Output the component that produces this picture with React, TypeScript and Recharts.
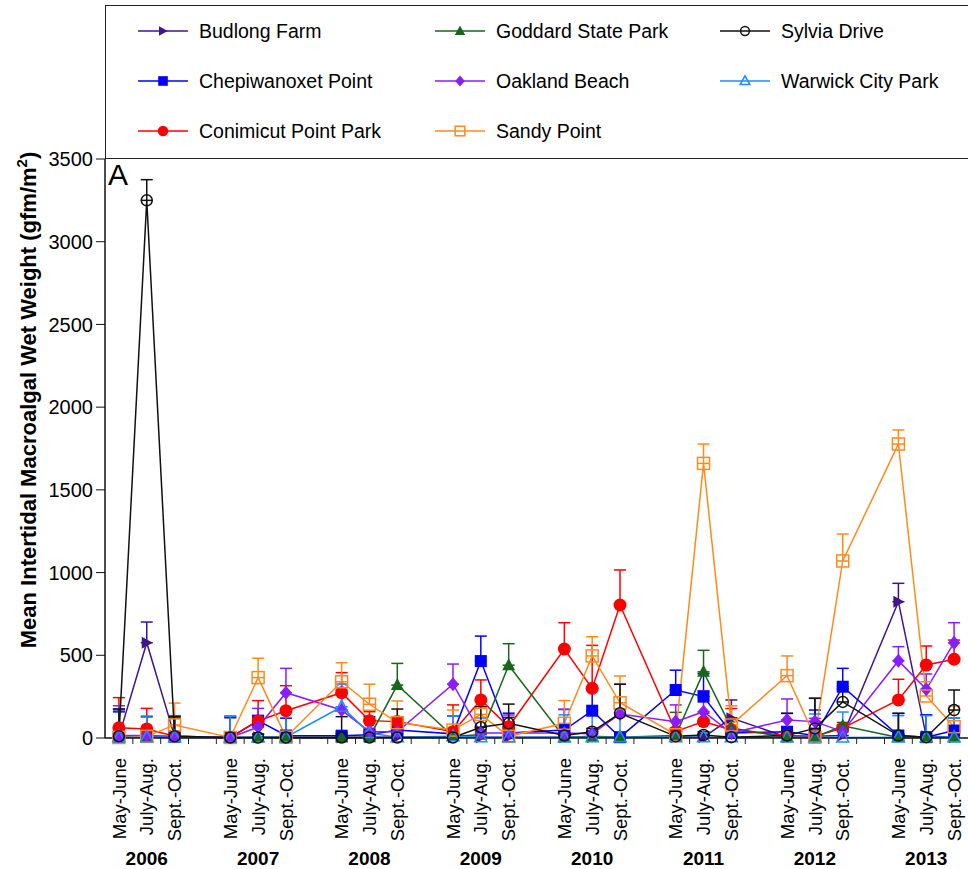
import { ComposedChart, Line, XAxis, YAxis, ErrorBar, Legend, Customized } from "recharts";

const FONT = "'Liberation Sans', Arial, Helvetica, sans-serif";

const seasons = ["May-June", "July-Aug.", "Sept.-Oct."];
const years = ["2006", "2007", "2008", "2009", "2010", "2011", "2012", "2013"];
const yTicks = [0, 500, 1000, 1500, 2000, 2500, 3000, 3500];

// values per sampling period, 2006 May-June ... 2013 Sept.-Oct.
const budlong = [10, 576, 10, 2, 5, 5, 3, 5, 5, 5, 5, 5, 5, 5, 5, 5, 5, 120, 5, 10, 15, 824, 10, 5];
const budlongErr = [160, 125, 110, 120, 20, 20, 20, 30, 20, 20, 20, 120, 20, 20, 20, 20, 20, 110, 20, 230, 30, 111, 129, 20];

const goddard = [5, 5, 5, 3, 3, 3, 3, 5, 320, 10, 20, 440, 3, 10, 5, 15, 400, 60, 3, 5, 74, 3, 3, 3];
const goddardErr = [170, 20, 130, 20, 20, 20, 20, 20, 131, 20, 20, 130, 20, 20, 20, 140, 130, 40, 20, 20, 20, 20, 20, 20];

const sylvia = [10, 3250, 10, 3, 3, 3, 3, 3, 3, 3, 65, 89, 15, 38, 149, 10, 18, 5, 15, 58, 218, 15, 5, 169];
const sylviaErr = [165, 125, 120, 20, 20, 20, 126, 126, 172, 20, 124, 116, 20, 20, 176, 20, 20, 20, 134, 182, 80, 134, 20, 121];

const chepiwanoxet = [8, 8, 8, 3, 105, 15, 14, 20, 48, 25, 465, 30, 48, 165, 5, 290, 250, 30, 38, 15, 310, 15, 5, 45];
const chepiwanoxetErr = [150, 120, 120, 125, 28, 105, 20, 20, 71, 108, 151, 120, 125, 125, 20, 120, 140, 90, 111, 154, 111, 134, 134, 75];

const oakland = [15, 15, 10, 3, 66, 274, 169, 38, 38, 325, 30, 30, 30, 25, 145, 99, 159, 30, 109, 99, 38, 467, 294, 576];
const oaklandErr = [180, 20, 20, 130, 113, 147, 120, 20, 20, 122, 20, 109, 143, 20, 180, 101, 127, 20, 127, 20, 20, 85, 93, 121];

const warwick = [5, 5, 5, 3, 5, 5, 189, 30, 5, 10, 5, 5, 5, 5, 5, 5, 5, 5, 5, 5, 3, 5, 5, 5];
const warwickErr = [170, 128, 128, 128, 20, 165, 137, 20, 20, 123, 116, 20, 135, 135, 168, 20, 20, 20, 20, 140, 154, 130, 130, 115];

const conimicut = [62, 55, 10, 3, 103, 165, 274, 105, 99, 38, 230, 68, 538, 300, 804, 40, 99, 48, 15, 10, 60, 230, 441, 476];
const conimicutErr = [182, 124, 20, 20, 123, 151, 121, 54, 20, 162, 121, 20, 159, 260, 212, 20, 51, 130, 20, 20, 20, 125, 115, 116];

const sandy = [3, 10, 79, 3, 365, 5, 340, 204, 93, 48, 143, 10, 89, 496, 213, 20, 1660, 79, 377, 5, 1070, 1777, 254, 68];
const sandyErr = [20, 20, 132, 20, 117, 20, 115, 121, 131, 121, 50, 20, 137, 116, 162, 20, 117, 116, 119, 20, 163, 85, 86, 125];

type Shape = "rtri" | "tri" | "ocircle" | "square" | "diamond" | "otri" | "circle" | "osquare";

const seriesList: { key: string; name: string; color: string; shape: Shape; values: number[]; errs: number[] }[] = [
  { key: "budlong", name: "Budlong Farm", color: "#3f148c", shape: "rtri", values: budlong, errs: budlongErr },
  { key: "chep", name: "Chepiwanoxet Point", color: "#0000ff", shape: "square", values: chepiwanoxet, errs: chepiwanoxetErr },
  { key: "conimicut", name: "Conimicut Point Park", color: "#ff0000", shape: "circle", values: conimicut, errs: conimicutErr },
  { key: "goddard", name: "Goddard State Park", color: "#17661a", shape: "tri", values: goddard, errs: goddardErr },
  { key: "oakland", name: "Oakland Beach", color: "#8a1cff", shape: "diamond", values: oakland, errs: oaklandErr },
  { key: "sandy", name: "Sandy Point", color: "#ff8a1c", shape: "osquare", values: sandy, errs: sandyErr },
  { key: "warwick", name: "Warwick City Park", color: "#1e8cff", shape: "otri", values: warwick, errs: warwickErr },
  { key: "sylvia", name: "Sylvia Drive", color: "#111111", shape: "ocircle", values: sylvia, errs: sylviaErr },
];

// legend grid order (column-major, as in the figure)
const legendOrder = ["budlong", "chep", "conimicut", "goddard", "oakland", "sandy", "sylvia", "warwick"];

const rows = years.flatMap((yr, yi) =>
  seasons.map((s, si) => {
    const k = yi * 3 + si;
    const row: Record<string, any> = { i: yi * 4 + si, season: s, year: yr, si };
    for (const sr of seriesList) {
      row[sr.key] = sr.values[k];
      row[sr.key + "Err"] = [0, sr.errs[k]];
    }
    return row;
  })
);

const labelTicks = rows.map((r) => r.i);
const boundaryTicks = Array.from({ length: 30 }, (_, k) => k + 0.5);

function Marker({ shape, cx, cy, color, s = 1 }: { shape: Shape; cx: number; cy: number; color: string; s?: number }) {
  switch (shape) {
    case "rtri":
      return <polygon points={`${cx - 5 * s},${cy - 6 * s} ${cx + 6 * s},${cy} ${cx - 5 * s},${cy + 6 * s}`} fill={color} />;
    case "tri":
      return <polygon points={`${cx},${cy - 7 * s} ${cx + 6.5 * s},${cy + 5 * s} ${cx - 6.5 * s},${cy + 5 * s}`} fill={color} />;
    case "otri":
      return (
        <polygon
          points={`${cx},${cy - 6.5 * s} ${cx + 6 * s},${cy + 4.5 * s} ${cx - 6 * s},${cy + 4.5 * s}`}
          fill="none"
          stroke={color}
          strokeWidth={1.5}
        />
      );
    case "ocircle":
      return <circle cx={cx} cy={cy} r={5.5 * s} fill="none" stroke={color} strokeWidth={1.5} />;
    case "circle":
      return <circle cx={cx} cy={cy} r={6.5 * s} fill={color} />;
    case "square":
      return <rect x={cx - 6 * s} y={cy - 6 * s} width={12 * s} height={12 * s} fill={color} />;
    case "osquare":
      return <rect x={cx - 6 * s} y={cy - 6 * s} width={12 * s} height={12 * s} fill="none" stroke={color} strokeWidth={1.5} />;
    case "diamond":
      return <polygon points={`${cx},${cy - 7 * s} ${cx + 6 * s},${cy} ${cx},${cy + 7 * s} ${cx - 6 * s},${cy}`} fill={color} />;
  }
}

function XTick(props: any) {
  const { x, y, payload } = props;
  const v = payload.value;
  if (!Number.isInteger(v)) {
    return <line x1={x} x2={x} y1={y} y2={y + 6} stroke="#222" strokeWidth={1} />;
  }
  const row = rows.find((r) => r.i === v);
  if (!row) return null;
  return (
    <g>
      <text
        x={x}
        y={y + 20}
        transform={`rotate(-90, ${x}, ${y + 20})`}
        textAnchor="end"
        dy="0.36em"
        fontFamily={FONT}
        fontSize={18.5}
        fill="#000"
      >
        {row.season}
      </text>
      {row.si === 1 && (
        <text x={x} y={y + 120} textAnchor="middle" dominantBaseline="central" fontFamily={FONT} fontSize={19} fontWeight="bold" fill="#000">
          {row.year}
        </text>
      )}
    </g>
  );
}

function LegendBox() {
  return (
    <div
      style={{
        position: "relative",
        width: 880,
        height: 152,
        border: "1.5px solid #222",
        borderRight: "none",
        background: "#fff",
        fontFamily: FONT,
        fontSize: 19.5,
        color: "#000",
      }}
    >
      {legendOrder.map((key, idx) => {
        const sr = seriesList.find((s) => s.key === key)!;
        const col = Math.floor(idx / 3);
        const row = idx % 3;
        const left = [32, 329, 614][col];
        const top = 25 + row * 50;
        return (
          <div key={key} style={{ position: "absolute", left, top: top - 12, height: 24, display: "flex", alignItems: "center" }}>
            <svg width={52} height={24} style={{ display: "block" }}>
              <line x1={0} x2={50} y1={12} y2={12} stroke={sr.color} strokeWidth={1.5} />
              <Marker shape={sr.shape} cx={25} cy={12} color={sr.color} s={0.8} />
            </svg>
            <span style={{ marginLeft: 9, whiteSpace: "nowrap" }}>{sr.name}</span>
          </div>
        );
      })}
    </div>
  );
}

function YTitle() {
  return (
    <text transform="translate(36, 400) rotate(-90)" textAnchor="middle" fontFamily={FONT} fontSize={22} fontWeight="bold" fill="#000">
      Mean Intertidal Macroalgal Wet Weight (gfm/m
      <tspan dy={-9} fontSize={15}>
        2
      </tspan>
      <tspan dy={9}>)</tspan>
    </text>
  );
}

function PanelLetter() {
  return (
    <text x={108} y={185} fontFamily={FONT} fontSize={30} fill="#000">
      A
    </text>
  );
}

export default function App() {
  return (
    <div style={{ position: "absolute", left: 0, top: 0, background: "#fff" }}>
      <ComposedChart width={968} height={869} data={rows} margin={{ top: 159, right: 0, bottom: 0, left: 0 }}>
        <XAxis
          type="number"
          dataKey="i"
          domain={[-0.5, 30.5]}
          ticks={[...labelTicks, ...boundaryTicks]}
          interval={0}
          tickLine={false}
          tickSize={0}
          tickMargin={0}
          height={131}
          axisLine={{ stroke: "#111", strokeWidth: 1.5 }}
          tick={<XTick />}
        />
        <YAxis
          type="number"
          domain={[0, 3500]}
          ticks={yTicks}
          interval={0}
          width={105}
          tickSize={9}
          tickMargin={3}
          axisLine={{ stroke: "#111", strokeWidth: 1.5 }}
          tickLine={{ stroke: "#111", strokeWidth: 1 }}
          tick={{ fontFamily: FONT, fontSize: 20, fill: "#000" }}
          label={{ content: <YTitle /> }}
        />
        <Legend
          layout="horizontal"
          verticalAlign="middle"
          align="center"
          wrapperStyle={{ top: 5, left: 105, width: 880, height: 155 }}
          content={<LegendBox />}
        />
        {seriesList.map((sr) => (
          <Line
            key={sr.key}
            type="linear"
            dataKey={sr.key}
            name={sr.name}
            stroke={sr.color}
            strokeWidth={1.5}
            isAnimationActive={false}
            activeDot={false}
            dot={(p: any) => <Marker key={`${sr.key}-${p.index}`} shape={sr.shape} cx={p.cx} cy={p.cy} color={sr.color} />}
          >
            <ErrorBar dataKey={sr.key + "Err"} width={6} strokeWidth={1.5} stroke={sr.color} direction="y" />
          </Line>
        ))}
        <Customized component={PanelLetter} />
      </ComposedChart>
    </div>
  );
}
